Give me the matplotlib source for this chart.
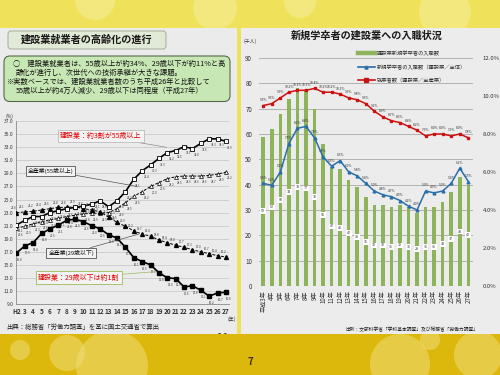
import matplotlib
matplotlib.use('Agg')
import matplotlib.pyplot as plt
from matplotlib.patches import FancyBboxPatch, Rectangle, Circle
from matplotlib.lines import Line2D
import numpy as np

plt.rcParams['font.family'] = ['Noto Sans CJK JP', 'DejaVu Sans']

# ---------------- data: left chart (%) ----------------
left_years = ['H2'] + [str(i) for i in range(3, 28)]
con_55 = [21.1, 21.8, 22.4, 22.4, 23.0, 23.3, 23.6, 23.8, 24.0, 24.3, 24.8, 23.9, 24.8,
          26.2, 28.1, 29.4, 30.3, 31.3, 32.2, 32.5, 33.1, 32.8, 33.6, 34.3, 34.3, 33.9]
all_55 = [20.6, 20.9, 21.3, 21.6, 21.9, 22.1, 22.4, 22.6, 22.8, 22.9, 22.9, 23.0, 23.6,
          24.5, 25.5, 26.2, 27.0, 27.6, 28.2, 28.5, 28.6, 28.6, 28.6, 28.7, 28.9, 29.2]
all_29 = [23.0, 23.1, 23.2, 23.4, 23.6, 23.8, 23.8, 23.9, 23.6, 23.4, 23.1, 22.3, 21.5,
          20.9, 20.2, 19.7, 19.4, 18.8, 18.4, 18.0, 17.7, 17.3, 17.0, 16.7, 16.4, 16.2]
con_29 = [16.8, 17.9, 18.4, 19.8, 20.5, 21.1, 21.8, 22.0, 21.6, 21.0, 20.5, 19.6, 19.1,
          17.7, 16.1, 15.5, 15.0, 13.8, 13.0, 12.9, 11.6, 11.8, 11.1, 10.2, 10.7, 10.8]
left_yticks = list(range(9, 38, 2))

# ---------------- data: right chart ----------------
right_years = ['平成3年'] + [f'{i}年' for i in range(4, 28)]
grad_new = [59, 62, 68, 74, 78, 77, 70, 56, 47, 46, 42, 39, 35, 32, 32, 31, 32, 31, 29,
            31, 31, 33, 37, 43, 40]                       # 千人
share_new = [5.4, 5.3, 6.0, 7.5, 8.3, 8.4, 7.8, 6.8, 6.3, 6.6, 6.0, 5.8, 5.4, 5.0, 4.8,
             4.7, 4.5, 4.2, 4.0, 5.0, 4.9, 5.0, 5.4, 6.2, 5.5]   # %
share_emp = [9.5, 9.6, 9.9, 10.2, 10.3, 10.3, 10.4, 10.2, 10.2, 10.1, 9.9, 9.8, 9.6, 9.2,
             8.9, 8.7, 8.6, 8.4, 8.2, 7.9, 8.0, 8.0, 7.9, 8.0, 7.8]  # %
right_ticks_left = list(range(0, 91, 10))
right_ticks_right = list(range(0, 13, 2))

W, H = 500, 375
fig = plt.figure(figsize=(5, 3.75), dpi=100)


def box(x0, y0, x1, y1):
    return [x0 / W, 1 - y1 / H, (x1 - x0) / W, (y1 - y0) / H]


# ---------------- background ----------------
bg = fig.add_axes([0, 0, 1, 1], zorder=-10)
bg.set_xlim(0, W)
bg.set_ylim(H, 0)
bg.axis('off')
bg.add_patch(Rectangle((0, 0), W, H, color='#efe25a'))
grad = np.zeros((1, 200, 3))
c0 = np.array([250, 246, 185]) / 255
c1 = np.array([244, 234, 100]) / 255
for i in range(200):
    t = i / 199
    grad[0, i] = c0 * (1 - t) + c1 * t
bg.imshow(grad, extent=(0, W, 30, 0), aspect='auto')
for cx, cy, r in [(215, 8, 22), (300, 2, 16), (445, 12, 26), (95, 0, 20)]:
    bg.add_patch(Circle((cx, cy), r, color='white', alpha=0.22, lw=0))
bg.set_xlim(0, W)
bg.set_ylim(H, 0)
bg.add_patch(Rectangle((0, 28), 237, 307, color='#ebebeb', lw=0))
bg.add_patch(Rectangle((241, 28), 259, 307, color='#ececec', lw=0))

# left title box
bg.add_patch(FancyBboxPatch((8, 31), 158, 18, boxstyle='round,pad=0,rounding_size=3',
                            fc='#e0ead6', ec='#a3ad97', lw=0.7))
bg.text(87, 40, '建設業就業者の高齢化の進行', fontsize=7.3, fontweight='bold',
        ha='center', va='center', color='#1a1a1a')

# green message box
bg.add_patch(FancyBboxPatch((4, 56), 226, 45.5, boxstyle='round,pad=0,rounding_size=6',
                            fc='#c7e8b4', ec='#56694d', lw=0.8))
msg = [(13, 63.5, '○　建設業就業者は、55歳以上が約34%、29歳以下が約11%と高'),
       (16, 72.5, '齢化が進行し、次世代への技術承継が大きな課題。'),
       (7, 81.5, '※実数ベースでは、建設業就業者数のうち平成26年と比較して'),
       (16, 90.5, '55歳以上が約4万人減少、29歳以下は同程度（平成27年）')]
for mx, my, mt in msg:
    bg.text(mx, my, mt, fontsize=5.2, ha='left', va='center', color='#111111')

bg.text(6, 116, '(%)', fontsize=3.5, ha='left', va='center', color='#333333')
bg.text(227, 319, '(年)', fontsize=3.5, ha='left', va='center', color='#333333')
bg.text(6, 327, '出典：総務省「労働力調査」を基に国土交通省で算出', fontsize=4.6,
        ha='left', va='center', color='#222222')
bg.text(222, 338, '14', fontsize=7, fontweight='bold', ha='center', va='center',
        color='#333333')

# right title / units / source
bg.text(367, 36, '新規学卒者の建設業への入職状況', fontsize=7.3, fontweight='bold',
        ha='center', va='center', color='#1a1a1a')
bg.text(244, 41, '(千人)', fontsize=3.5, ha='left', va='center', color='#333333')
bg.text(478, 329, '出所：文部科学省「学校基本調査」及び総務省「労働力調査」', fontsize=3.4,
        ha='right', va='center', color='#222222')

# ---------------- left chart ----------------
axl = fig.add_axes(box(16, 121.2, 229, 304))
axl.patch.set_visible(False)
xl = np.arange(len(left_years))
axl.set_xlim(-0.05, 25.36)
axl.set_ylim(9, 37)
axl.set_yticks(left_yticks)
axl.set_yticklabels([f'{v:.1f}' for v in left_yticks], fontsize=3.5, color='#333333')
axl.set_xticks(xl)
axl.set_xticklabels(left_years, fontsize=4.6, fontweight='bold', color='#333333')
axl.tick_params(length=0, pad=2)
axl.tick_params(axis='x', pad=3)
axl.yaxis.grid(True, color='#c4c4c4', lw=0.5)
axl.set_axisbelow(True)
for s in ['top', 'right']:
    axl.spines[s].set_visible(False)
for s in ['left', 'bottom']:
    axl.spines[s].set_color('#8a8a8a')
    axl.spines[s].set_linewidth(0.6)

axl.plot(xl, all_55, color='black', lw=0.7, ls=(0, (3, 1.5)), marker='^', ms=2.8,
         mfc='white', mec='black', mew=0.5, zorder=3)
axl.plot(xl, all_29, color='black', lw=0.7, ls=(0, (3, 1.5)), marker='^', ms=2.8,
         mfc='black', mec='black', zorder=3)
axl.plot(xl, con_55, color='black', lw=1.2, marker='s', ms=3.0, mfc='white',
         mec='black', mew=0.6, zorder=4)
axl.plot(xl, con_29, color='black', lw=1.2, marker='s', ms=2.8, mfc='black',
         mec='black', zorder=4)

for series, dx, dy in [(con_55, 3, -4.5), (all_55, 3, -4.5), (all_29, -2, 3.5),
                       (con_29, 2, -5)]:
    for xi, v in zip(xl, series):
        axl.annotate(f'{v:.1f}', (xi, v), xytext=(dx, dy), textcoords='offset points',
                     fontsize=2.1, ha='center', va='center', color='#333333', zorder=5)

ann_kw = dict(xycoords='data', textcoords='figure pixels', ha='center', va='center',
              zorder=6)
axl.annotate('建設業：約3割が55歳以上', xy=(17.9, 33.0), xytext=(101, H - 136),
             fontsize=5.0, color='#e00000',
             bbox=dict(boxstyle='square,pad=0.35', fc='#f3f3f3', ec='#b0b0b0', lw=0.5),
             arrowprops=dict(arrowstyle='-', color='#8a8a8a', lw=0.5, shrinkA=0, shrinkB=0),
             **ann_kw)
axl.annotate('全産業(55歳以上)', xy=(14.4, 27.0), xytext=(50.5, H - 170.7),
             fontsize=4.2, color='#111111',
             bbox=dict(boxstyle='square,pad=0.35', fc='#f3f3f3', ec='#333333', lw=0.5),
             arrowprops=dict(arrowstyle='-', color='#555555', lw=0.5, shrinkA=0, shrinkB=0),
             **ann_kw)
axl.annotate('全産業(29歳以下)', xy=(14.6, 19.7), xytext=(71.3, H - 253),
             fontsize=4.2, color='#111111',
             bbox=dict(boxstyle='square,pad=0.35', fc='#f3f3f3', ec='#333333', lw=0.5),
             arrowprops=dict(arrowstyle='-', color='#555555', lw=0.5, shrinkA=0, shrinkB=0),
             **ann_kw)
axl.annotate('建設業：29歳以下は約1割', xy=(16.5, 13.95), xytext=(78.8, H - 277.8),
             fontsize=5.0, color='#e00000',
             bbox=dict(boxstyle='square,pad=0.35', fc='#f3f3f3', ec='#9bbb59', lw=0.6),
             arrowprops=dict(arrowstyle='-', color='#9bbb59', lw=0.5, shrinkA=0, shrinkB=0),
             **ann_kw)

# ---------------- right chart ----------------
axr = fig.add_axes(box(259, 58, 473, 286))
axr.patch.set_visible(False)
xr = np.arange(len(right_years))
axr.bar(xr, grad_new, width=0.42, color='#8db45a', zorder=2)
axr.set_xlim(-0.5, 24.55)
axr.set_ylim(0, 90)
axr.set_yticks(right_ticks_left)
axr.set_yticklabels([str(v) for v in right_ticks_left], fontsize=4.5, color='#333333')
axr.set_xticks(xr)
axr.set_xticklabels(right_years, rotation=90, fontsize=4.4, color='#333333')
axr.tick_params(length=0)
axr.tick_params(axis='y', pad=5)
axr.tick_params(axis='x', pad=3)
axr.yaxis.grid(True, color='#a8a8a8', lw=0.6)
axr.set_axisbelow(True)
for s in axr.spines.values():
    s.set_visible(False)
for xi, v in zip(xr, grad_new):
    axr.text(xi, v / 2, str(v), fontsize=2.6, ha='center', va='center', color='#333333',
             bbox=dict(boxstyle='square,pad=0.25', fc='white', ec='none'), zorder=3)

axr2 = axr.twinx()
axr2.set_ylim(0, 12)
axr2.set_yticks(right_ticks_right)
axr2.set_yticklabels([f'{v:.1f}%' for v in right_ticks_right], fontsize=4.3, color='#333333')
axr2.tick_params(length=0, pad=7)
for s in axr2.spines.values():
    s.set_visible(False)
axr2.plot(xr, share_new, color='#2a6fa8', lw=1.1, marker='^', ms=2.0, zorder=4)
axr2.plot(xr, share_emp, color='#cc1111', lw=1.1, marker='s', ms=2.0, zorder=4)
for series in (share_new, share_emp):
    for xi, v in zip(xr, series):
        axr2.annotate(f'{v:.1f}%', (xi, v), xytext=(0, 4), textcoords='offset points',
                      fontsize=2.4, ha='center', va='center', color='#333333')

handles = [Line2D([], [], color='#8db45a', lw=3.2),
           Line2D([], [], color='#2a6fa8', lw=1.2, marker='^', ms=2.2),
           Line2D([], [], color='#cc1111', lw=1.2, marker='s', ms=2.2)]
labels = ['建設業新規学卒者の入職数', '新規学卒者の入職数（建設業／全体）',
          '就業者数（建設業／全産業）']
axr2.legend(handles, labels, loc='upper left', bbox_to_anchor=(355 / W, 1 - 48 / H),
            bbox_transform=fig.transFigure, frameon=False, fontsize=3.8,
            labelspacing=1.55, handlelength=3.2, handletextpad=0.4, borderpad=0,
            labelcolor='#333333')

# ---------------- bottom band ----------------
ov = fig.add_axes([0, 0, 1, (H - 334) / H], zorder=10)
ov.set_xlim(0, W)
ov.set_ylim(H, 334)
ov.axis('off')
ov.add_patch(Rectangle((0, 334), W, 41, color='#dcb80c', lw=0))
for cx, cy, r in [(20, 350, 10), (67, 353, 18), (112, 366, 36), (400, 364, 30),
                  (430, 340, 10), (478, 355, 24)]:
    ov.add_patch(Circle((cx, cy), r, color='#f0dc78', alpha=0.55, lw=0))
ov.text(250, 362, '7', fontsize=7, fontweight='bold', ha='center', va='center',
        color='#3a3000')

fig.savefig('out.png', dpi=100)
